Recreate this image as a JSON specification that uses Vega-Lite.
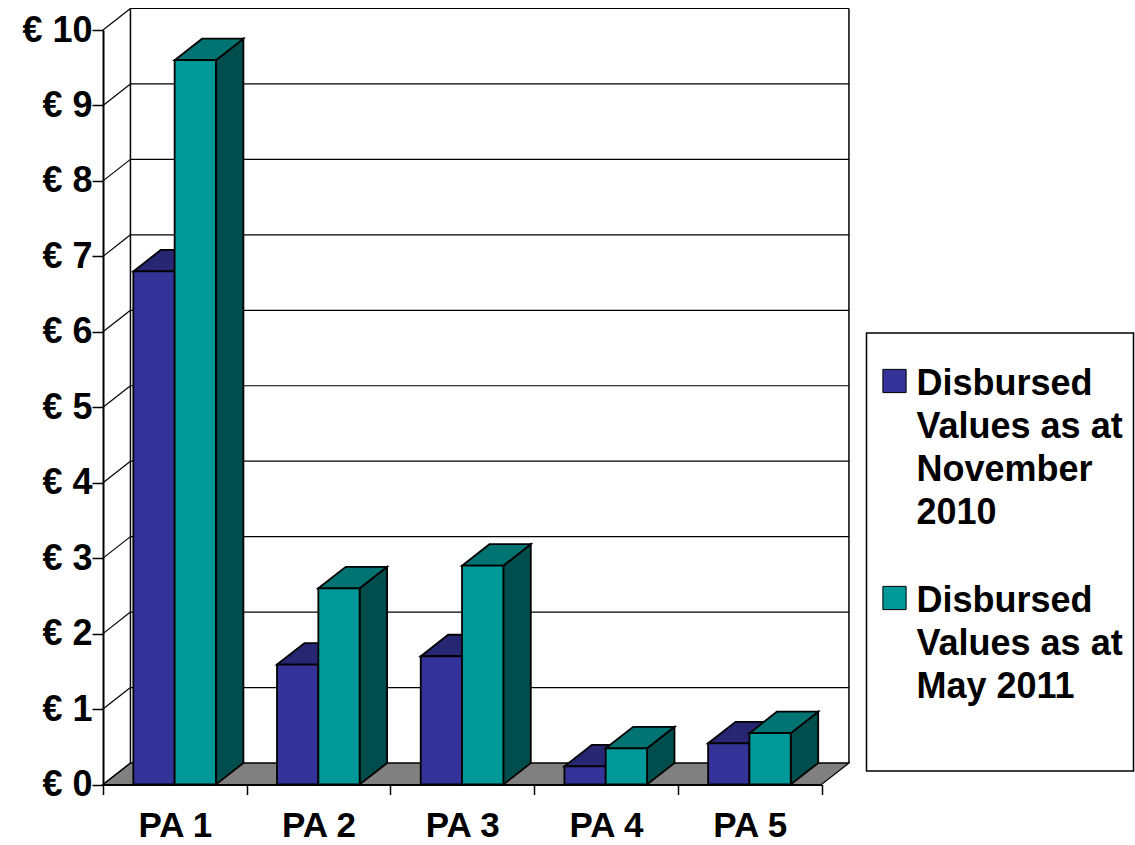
{
"$schema":"https://vega.github.io/schema/vega-lite/v6.json",
"width":718.5,"height":754.5,
"autosize":"none",
"padding":{"left":103,"top":30,"right":313.5,"bottom":60.5},
"background":"white",
"view":{"stroke":null},
"params":[{"name":"dx","value":0.191},{"name":"dy","value":0.285},{"name":"bw","value":0.2875}],
"datasets":{
"bars":[
{"pa":"PA 1","series":"Disbursed Values as at November 2010","value":6.8},
{"pa":"PA 1","series":"Disbursed Values as at May 2011","value":9.6},
{"pa":"PA 2","series":"Disbursed Values as at November 2010","value":1.59},
{"pa":"PA 2","series":"Disbursed Values as at May 2011","value":2.6},
{"pa":"PA 3","series":"Disbursed Values as at November 2010","value":1.7},
{"pa":"PA 3","series":"Disbursed Values as at May 2011","value":2.9},
{"pa":"PA 4","series":"Disbursed Values as at November 2010","value":0.24},
{"pa":"PA 4","series":"Disbursed Values as at May 2011","value":0.48},
{"pa":"PA 5","series":"Disbursed Values as at November 2010","value":0.546},
{"pa":"PA 5","series":"Disbursed Values as at May 2011","value":0.68}
],
"ticks":[{"v":0},{"v":1},{"v":2},{"v":3},{"v":4},{"v":5},{"v":6},{"v":7},{"v":8},{"v":9},{"v":10}],
"floor":[{"t":0},{"t":1},{"t":2},{"t":3}]
},
"resolve":{"scale":{"color":"independent"}},
"layer":[
{"data":{"name":"floor"},
"transform":[
{"calculate":"datum.t==0?0:datum.t==1?dx:datum.t==2?5:5+dx","as":"x"},
{"calculate":"datum.t==0?0:dy","as":"top"},
{"calculate":"datum.t<3?0:dy","as":"bottom"}],
"mark":{"type":"area","fill":"#808080","stroke":"black","strokeWidth":1.2},
"encoding":{
"x":{"field":"x","type":"quantitative","scale":{"domain":[0,5],"nice":false,"zero":false},
"axis":{"title":null,"grid":false,"values":[0,1,2,3,4,5],"labelExpr":"datum.value<5?'PA '+(datum.value+1):''","labelOffset":71.85,"labelFont":"Liberation Sans","labelFontSize":35,"labelFontWeight":"bold","labelColor":"black","labelPadding":14,"labelBaseline":"top","labelFlush":false,"labelOverlap":false,"labelBound":false,"tickSize":10,"tickColor":"black","tickWidth":1.5,"domainColor":"black","domainWidth":2.2,"zindex":1}},
"y":{"field":"top","type":"quantitative","scale":{"domain":[0,10],"nice":false},
"axis":{"title":null,"grid":false,"values":[0,1,2,3,4,5,6,7,8,9,10],"labelExpr":"'€ '+datum.value","labelFont":"Liberation Sans","labelFontSize":36,"labelFontWeight":"bold","labelColor":"black","labelPadding":0,"labelFlush":false,"labelOverlap":false,"labelBound":false,"tickSize":11,"tickColor":"black","tickWidth":1.5,"domainColor":"black","domainWidth":2,"zindex":1}},
"y2":{"field":"bottom"}}},
{"data":{"name":"ticks"},
"transform":[{"calculate":"datum.v+dy","as":"back"},{"calculate":"5+dx","as":"right"},{"calculate":"dx","as":"left"}],
"mark":{"type":"rule","stroke":"black","strokeWidth":1.2},
"encoding":{"x":{"field":"left","type":"quantitative","axis":{"title":null}},"x2":{"field":"right"},"y":{"field":"back","type":"quantitative","axis":{"title":null}}}},
{"data":{"name":"ticks"},
"transform":[{"calculate":"datum.v+dy","as":"back"},{"calculate":"dx","as":"left"},{"calculate":"0","as":"zero"}],
"mark":{"type":"rule","stroke":"black","strokeWidth":1.2},
"encoding":{"x":{"field":"zero","type":"quantitative","axis":{"title":null}},"x2":{"field":"left"},"y":{"field":"v","type":"quantitative","axis":{"title":null}},"y2":{"field":"back"}}},
{"data":{"name":"floor"},
"transform":[{"filter":"datum.t<2"},{"calculate":"datum.t==0?dx:5+dx","as":"x"},{"calculate":"dy","as":"lo"},{"calculate":"10+dy","as":"hi"}],
"mark":{"type":"rule","stroke":"black","strokeWidth":1.5},
"encoding":{"x":{"field":"x","type":"quantitative","axis":{"title":null}},"y":{"field":"lo","type":"quantitative","axis":{"title":null}},"y2":{"field":"hi"}}},
{"data":{"name":"bars"},
"transform":[
{"calculate":"indexof(['PA 1','PA 2','PA 3','PA 4','PA 5'],datum.pa)+(indexof(datum.series,'November')>=0?0.211:0.4985)","as":"x0"},
{"calculate":"datum.x0+bw","as":"x1"},
{"calculate":"datum.pa+datum.series","as":"id"},
{"calculate":"[0,1]","as":"t"},{"flatten":["t"]},
{"calculate":"datum.x1+datum.t*dx","as":"x"},
{"calculate":"datum.value+datum.t*dy","as":"top"},
{"calculate":"datum.t*dy","as":"bottom"}],
"mark":{"type":"area","stroke":"black","strokeWidth":1.8},
"encoding":{"x":{"field":"x","type":"quantitative","axis":{"title":null}},"y":{"field":"top","type":"quantitative","axis":{"title":null}},"y2":{"field":"bottom"},"detail":{"field":"id"},
"color":{"field":"series","type":"nominal","legend":null,"scale":{"domain":["Disbursed Values as at November 2010","Disbursed Values as at May 2011"],"range":["#1a1a4d","#004d4d"]}}}},
{"data":{"name":"bars"},
"transform":[
{"calculate":"indexof(['PA 1','PA 2','PA 3','PA 4','PA 5'],datum.pa)+(indexof(datum.series,'November')>=0?0.211:0.4985)","as":"x0"},
{"calculate":"datum.x0+bw","as":"x1"},
{"calculate":"datum.pa+datum.series","as":"id"},
{"calculate":"[0,1,2,3]","as":"t"},{"flatten":["t"]},
{"calculate":"datum.t==0?datum.x0:datum.t==1?datum.x0+dx:datum.t==2?datum.x1:datum.x1+dx","as":"x"},
{"calculate":"datum.t==0?datum.value:datum.value+dy","as":"top"},
{"calculate":"datum.t<3?datum.value:datum.value+dy","as":"bottom"}],
"mark":{"type":"area","stroke":"black","strokeWidth":1.8},
"encoding":{"x":{"field":"x","type":"quantitative","axis":{"title":null}},"y":{"field":"top","type":"quantitative","axis":{"title":null}},"y2":{"field":"bottom"},"detail":{"field":"id"},
"color":{"field":"series","type":"nominal","legend":null,"scale":{"domain":["Disbursed Values as at November 2010","Disbursed Values as at May 2011"],"range":["#262673","#007373"]}}}},
{"data":{"name":"bars"},
"transform":[
{"calculate":"indexof(['PA 1','PA 2','PA 3','PA 4','PA 5'],datum.pa)+(indexof(datum.series,'November')>=0?0.211:0.4985)","as":"x0"},
{"calculate":"datum.x0+bw","as":"x1"},
{"calculate":"0","as":"base"}],
"mark":{"type":"rect","stroke":"black","strokeWidth":1.8},
"encoding":{"x":{"field":"x0","type":"quantitative","axis":{"title":null}},"x2":{"field":"x1"},"y":{"field":"value","type":"quantitative","axis":{"title":null}},"y2":{"field":"base"},
"color":{"field":"series","type":"nominal","scale":{"domain":["Disbursed Values as at November 2010","Disbursed Values as at May 2011"],"range":["#333399","#009999"]},
"legend":{"title":" ","titleOrient":"bottom","titleFontSize":20,"titlePadding":36,"orient":"none","legendX":763.5,"legendY":303,"padding":10,"strokeColor":"black","fillColor":"white",
"labelFont":"Liberation Sans","labelFontSize":36,"labelFontWeight":"bold","labelColor":"black","labelLimit":400,"labelOffset":4,
"symbolType":"square","symbolSize":540,"symbolStrokeColor":"black","symbolStrokeWidth":1,"symbolOpacity":1,"rowPadding":29,
"labelExpr":"indexof(datum.label,'November')>=0?['Disbursed','Values as at','November','2010']:['Disbursed','Values as at','May 2011']",
"encode":{"legend":{"update":{"strokeWidth":{"value":1.5}}},"symbols":{"update":{"y":{"value":38}}},"labels":{"update":{"lineHeight":{"value":43},"baseline":{"value":"top"},"dy":{"value":6}}}}}}}}
]
}
